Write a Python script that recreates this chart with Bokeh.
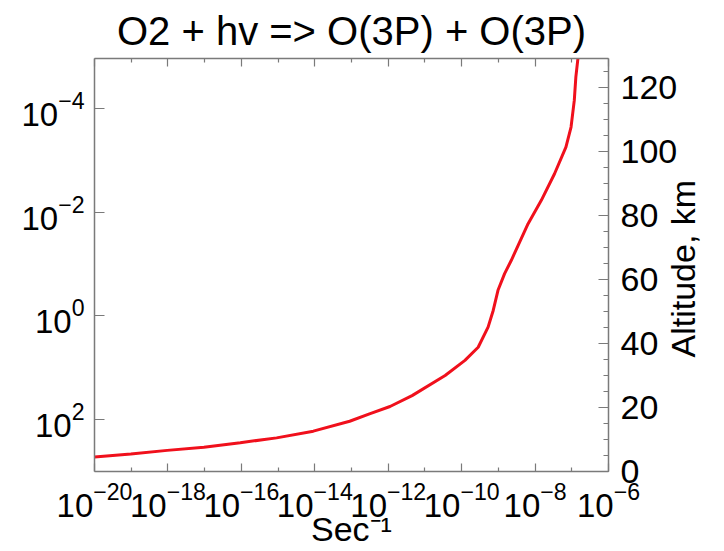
import math
from bokeh.plotting import figure
from bokeh.models import (LogAxis, LinearAxis, Range1d, LogScale, FixedTicker,
                          LogTickFormatter, SingleIntervalTicker, CustomJSTickFormatter)
from bokeh.embed import file_html
from bokeh.resources import INLINE

# ---------------- data ----------------
title_text = "O2 + hv => O(3P) + O(3P)"
x_label = "Sec\u207b\u00b9"
alt_label = "Altitude, km"

altitude_km = [4.5, 5.5, 6.6, 7.6, 9.0, 10.5, 12.6, 15.7, 18.0, 20.3, 23.7, 30.0,
               34.7, 38.8, 45.1, 50.3, 56.6, 61.8, 65.9, 77.4, 84.7, 93.0, 101.3,
               107.6, 115.9, 123.2, 128.4, 130.0]
rate_per_sec = [1.0e-20, 9.77e-20, 9.55e-19, 9.55e-18, 9.33e-17, 9.12e-16, 9.12e-15,
                8.91e-14, 3.09e-13, 1.12e-12, 4.47e-12, 3.55e-11, 1.23e-10, 2.82e-10,
                5.25e-10, 7.24e-10, 9.77e-10, 1.48e-9, 2.24e-9, 6.46e-9, 1.48e-8,
                3.39e-8, 6.92e-8, 9.55e-8, 1.17e-7, 1.29e-7, 1.45e-7, 1.51e-7]

x_major_ticks = [1e-20, 1e-18, 1e-16, 1e-14, 1e-12, 1e-10, 1e-8, 1e-6]
x_minor_ticks = [1e-19, 1e-17, 1e-15, 1e-13, 1e-11, 1e-9, 1e-7]
pressure_ticks = [1e-4, 1e-2, 1e0, 1e2]
alt_label_start = [35.6]
x_limits = (1e-20, 1e-6)
alt_limits = (0, 129)
pressure_limits = (1000.0, 1.08e-5)

# ---------------- figure ----------------
FONT = "Liberation Sans"
AX = "#7a7a7a"
TICK_SIZE = "33px"

p = figure(width=724, height=551, x_axis_type="log",
           x_range=Range1d(*x_limits), y_range=Range1d(*alt_limits),
           y_axis_location="right", output_backend="svg", toolbar_location=None,
           title=title_text,
           min_border_left=94, min_border_right=113, min_border_top=58,
           min_border_bottom=80)
p.extra_y_ranges = {"p": Range1d(*pressure_limits)}
p.extra_y_scales = {"p": LogScale()}

p.grid.visible = False
p.outline_line_color = None
p.background_fill_color = "white"
p.border_fill_color = "white"

p.title.text_font = FONT
p.title.text_font_size = "40px"
p.title.text_font_style = "normal"
p.title.align = "center"
p.title.text_color = "black"
p.title.standoff = 11

blank = CustomJSTickFormatter(code="return ''")


def style(ax, major=9, minor=5):
    ax.axis_line_color = AX
    ax.axis_line_width = 1.5
    ax.major_tick_line_color = AX
    ax.minor_tick_line_color = AX
    ax.major_tick_line_width = 1.2
    ax.minor_tick_line_width = 1.2
    ax.major_tick_in = major
    ax.major_tick_out = 0
    ax.minor_tick_in = minor
    ax.minor_tick_out = 0
    ax.major_label_text_font = FONT
    ax.major_label_text_font_size = TICK_SIZE
    ax.major_label_text_color = "black"
    ax.axis_label_text_font = FONT
    ax.axis_label_text_font_style = "normal"
    ax.axis_label_text_color = "black"
    ax.axis_label_text_font_size = "34px"


# bottom x axis
xa = p.xaxis[0]
xa.ticker = FixedTicker(ticks=x_major_ticks, minor_ticks=x_minor_ticks)
xa.formatter = LogTickFormatter()
style(xa, 8, 4)
xa.axis_label = x_label
xa.major_label_standoff = 10
xa.axis_label_standoff = -10

# top mirror axis
xt = LogAxis(ticker=FixedTicker(ticks=x_major_ticks, minor_ticks=x_minor_ticks),
             formatter=blank)
style(xt, 8, 4)
xt.major_label_text_font_size = "1px"
xt.major_label_standoff = 0
p.add_layout(xt, "above")

# right altitude axis (ticks + numbers)
ra = p.yaxis[0]
ra.ticker = SingleIntervalTicker(interval=20, num_minor_ticks=4)
style(ra, 10, 5)
ra.major_label_text_font_size = "34px"
ra.major_label_standoff = 12

# outer right axis carrying only the rotated title "Altitude, km"
rl = LinearAxis(ticker=FixedTicker(ticks=alt_label_start),
                formatter=CustomJSTickFormatter(args=dict(lbl=alt_label), code="return lbl"))
style(rl, 0, 0)
rl.axis_line_color = None
rl.major_tick_line_color = None
rl.minor_tick_line_color = None
rl.major_label_text_font_size = "34px"
rl.major_label_text_line_height = 0.85
rl.major_label_text_baseline = "top"
rl.major_label_orientation = math.pi / 2
rl.major_label_standoff = 3
p.add_layout(rl, "right")

# left pressure axis
la = LogAxis(y_range_name="p", ticker=FixedTicker(ticks=pressure_ticks),
             formatter=LogTickFormatter())
style(la, 10, 0)
la.minor_tick_line_color = None
la.major_label_standoff = 10
p.add_layout(la, "left")

p.line(rate_per_sec, altitude_km, line_color="#f0101c", line_width=3)

open("out.html", "w").write(file_html(p, INLINE))
